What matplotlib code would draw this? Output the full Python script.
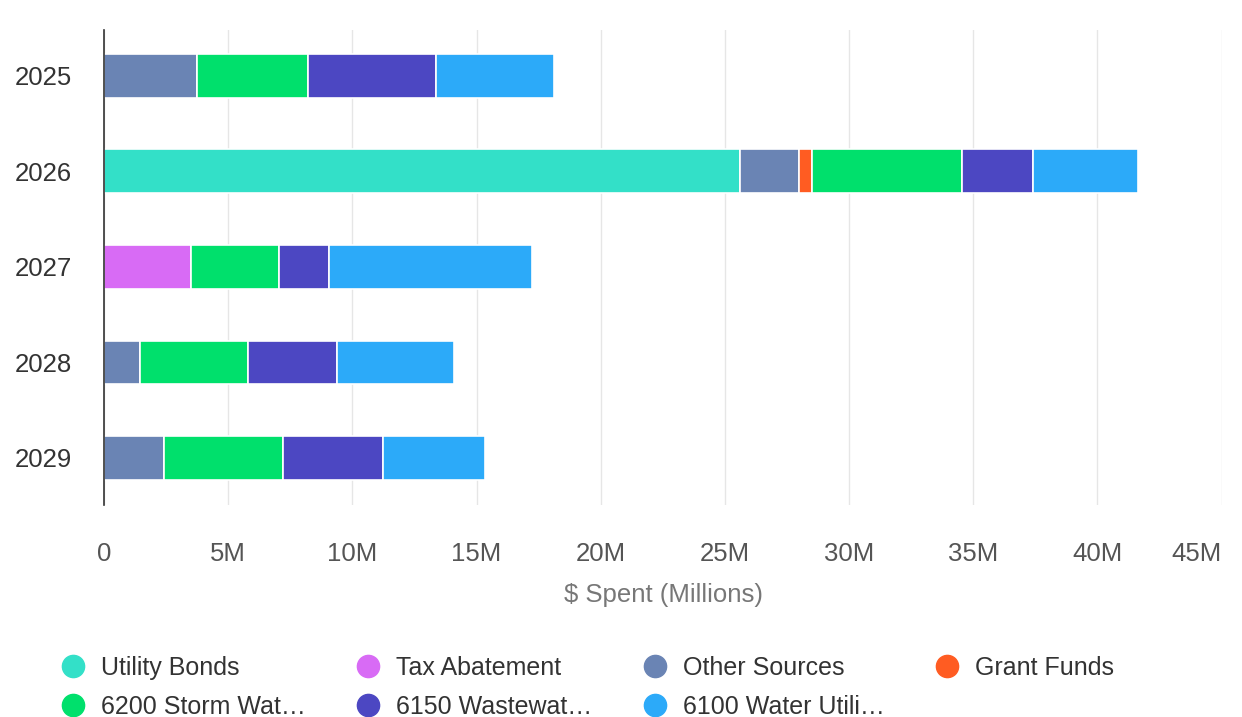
import matplotlib.pyplot as plt
from matplotlib.lines import Line2D
import numpy as np

plt.rcParams['font.family'] = ['Liberation Sans', 'DejaVu Sans']

years = ["2025", "2026", "2027", "2028", "2029"]

# values in millions of dollars, per funding source
utility_bonds = [0, 25.6, 0, 0, 0]
tax_abatement = [0, 0, 3.5, 0, 0]
other_sources = [3.75, 2.4, 0, 1.45, 2.4]
grant_funds = [0, 0.5, 0, 0, 0]
storm_water = [4.45, 6.05, 3.55, 4.35, 4.8]
wastewater = [5.15, 2.85, 2.0, 3.6, 4.05]
water_util = [4.75, 4.25, 8.2, 4.7, 4.1]

series = [
    ("Utility Bonds", utility_bonds, "#33e0c8"),
    ("Tax Abatement", tax_abatement, "#d86bf5"),
    ("Other Sources", other_sources, "#6a84b4"),
    ("Grant Funds", grant_funds, "#ff5c22"),
    ("6200 Storm Wat…", storm_water, "#00e06c"),
    ("6150 Wastewat…", wastewater, "#4c47c2"),
    ("6100 Water Utili…", water_util, "#2caaf9"),
]

xticks = [0, 5, 10, 15, 20, 25, 30, 35, 40, 45]
xtick_labels = ["0", "5M", "10M", "15M", "20M", "25M", "30M", "35M", "40M", "45M"]

fig = plt.figure(figsize=(12.42, 7.17), dpi=100)
ax = fig.add_axes([0.0837, 0.296, 0.9003, 0.662])

y = np.arange(len(years))
left = np.zeros(len(years))
for name, vals, col in series:
    vals = np.array(vals)
    ax.barh(y, vals, left=left, height=0.46, color=col, edgecolor="white", linewidth=1.2, zorder=3)
    left += vals

ax.set_ylim(4.49, -0.48)
ax.set_xlim(0, 45.02)
ax.set_yticks(y)
ax.set_yticklabels(years, fontsize=18.5, color="#333333")
ax.set_xticks(xticks)
ax.set_xticklabels(xtick_labels, fontsize=18.5, color="#555555")
ax.get_xticklabels()[-1].set_horizontalalignment("right")
ax.tick_params(axis="x", length=0, pad=27)
ax.tick_params(axis="y", length=0, pad=23)
ax.grid(axis="x", color="#e6e6e6", linewidth=1, zorder=0)
for s in ["top", "right", "bottom"]:
    ax.spines[s].set_visible(False)
ax.spines["left"].set_color("#333333")
ax.spines["left"].set_linewidth(1.2)
ax.spines["left"].set_zorder(4)
ax.set_xlabel("\\$ Spent (Millions)", fontsize=18.5, color="#777777", labelpad=12)

# legend laid out row-wise in 4 columns
order = [0, 4, 1, 5, 2, 6, 3]
handles = [Line2D([], [], marker="o", linestyle="none", markersize=16,
                  markerfacecolor=series[i][2], markeredgecolor=series[i][2]) for i in order]
labels = [series[i][0] for i in order]
fig.legend(handles, labels, ncol=4, loc="upper left", bbox_to_anchor=(0.0487, 0.0855),
           frameon=False, fontsize=18, labelcolor="#333333", handlelength=1.0,
           handletextpad=0.62, columnspacing=2.0, labelspacing=0.62,
           borderaxespad=0, borderpad=0)

fig.savefig("out.png", dpi=100)
